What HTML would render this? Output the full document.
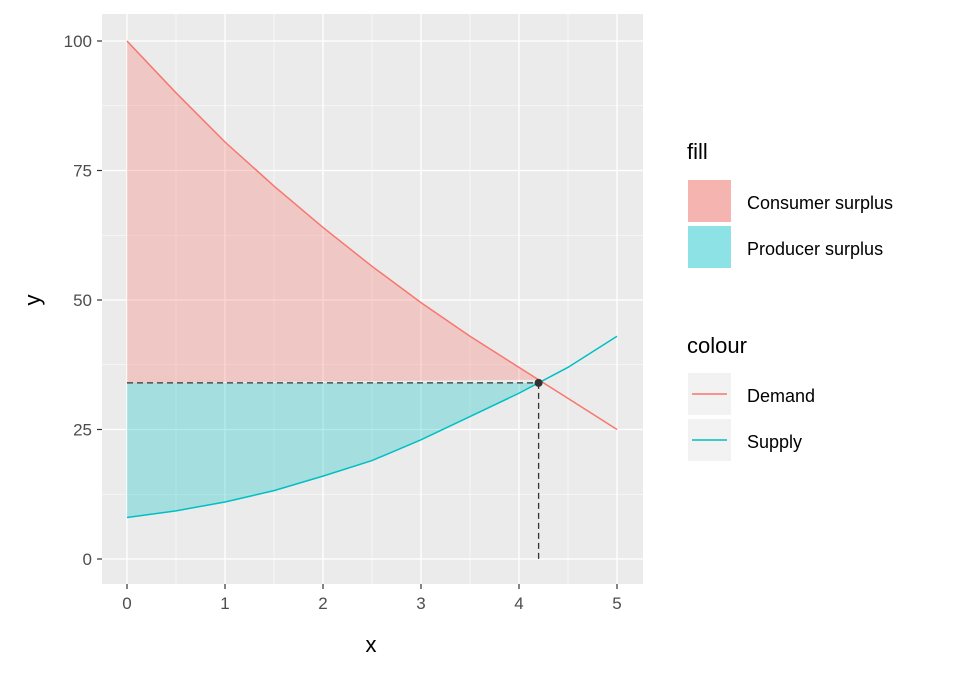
<!DOCTYPE html>
<html><head><meta charset="utf-8"><style>
body{margin:0;background:#fff;font-family:"Liberation Sans",Arial,sans-serif}
</style></head><body>
<svg id="c" width="960" height="672" xmlns="http://www.w3.org/2000/svg">
<rect x="0" y="0" width="960" height="672" fill="#fff"/>
<rect x="102" y="14" width="541" height="570" fill="#EBEBEB"/>
<g id="grid"></g>
<g id="areas"></g>
<g id="lines"></g>
<g id="axes"></g>
<text x="371" y="652" font-size="22" text-anchor="middle" fill="#000">x</text>
<text transform="translate(40,300) rotate(-90)" font-size="22" text-anchor="middle" fill="#000">y</text>
<g>
<text x="687" y="159" font-size="22">fill</text>
<rect x="688" y="180" width="43" height="42" fill="#F2F2F2"/>
<rect x="688" y="180" width="43" height="42" fill="#F8766D" fill-opacity="0.5"/>
<text x="747" y="209" font-size="18">Consumer surplus</text>
<rect x="688" y="226" width="43" height="42" fill="#00BFC4" fill-opacity="0.45"/>
<text x="747" y="255" font-size="18">Producer surplus</text>
<text x="687" y="353" font-size="22">colour</text>
<rect x="688" y="373" width="43" height="42" fill="#F2F2F2"/>
<line x1="692" y1="394" x2="727" y2="394" stroke="#F8766D" stroke-width="1.5"/>
<text x="747" y="402" font-size="18">Demand</text>
<rect x="688" y="419" width="43" height="42" fill="#F2F2F2"/>
<line x1="692" y1="440" x2="727" y2="440" stroke="#00BFC4" stroke-width="1.5"/>
<text x="747" y="448" font-size="18">Supply</text>
</g>
</svg>
<script>
const xs=[0,0.5,1,1.5,2,2.5,3,3.5,4,4.5,5];
const demand=[100,90,80.5,72,64,56.5,49.5,43,37,31,25];
const supply=[8,9.3,11,13.2,16,19,23,27.5,32,37,43];
const eqX=4.2, eqY=34;
const xTicks=[0,1,2,3,4,5];
const yTicks=[0,25,50,75,100];
const X=v=>127+v*98, Y=v=>559-v*5.18;
const NS="http://www.w3.org/2000/svg";
function mk(p,t,a){const e=document.createElementNS(NS,t);for(const k in a)e.setAttribute(k,a[k]);document.getElementById(p).appendChild(e);return e;}
const g='grid';
for(let i=0;i<xTicks.length-1;i++){const v=(xTicks[i]+xTicks[i+1])/2;mk(g,'line',{x1:X(v),x2:X(v),y1:14,y2:584,stroke:'#fff','stroke-width':0.6});}
for(let i=0;i<yTicks.length-1;i++){const v=(yTicks[i]+yTicks[i+1])/2;mk(g,'line',{y1:Y(v),y2:Y(v),x1:102,x2:643,stroke:'#fff','stroke-width':0.6});}
xTicks.forEach(v=>{mk(g,'line',{x1:X(v),x2:X(v),y1:14,y2:584,stroke:'#fff','stroke-width':1.3});
 mk('axes','line',{x1:X(v),x2:X(v),y1:584,y2:589,stroke:'#333','stroke-width':1.2});
 const t=mk('axes','text',{x:X(v),y:609,'font-size':17,fill:'#4D4D4D','text-anchor':'middle'});t.textContent=v;
 
 });
yTicks.forEach(v=>{mk(g,'line',{y1:Y(v),y2:Y(v),x1:102,x2:643,stroke:'#fff','stroke-width':1.3});
 mk('axes','line',{x1:97,x2:102,y1:Y(v),y2:Y(v),stroke:'#333','stroke-width':1.2});
 const t=mk('axes','text',{x:92,y:Y(v)+6,'font-size':17,fill:'#4D4D4D','text-anchor':'end'});t.textContent=v;
 
 });
function interp(arr,x){for(let i=0;i<xs.length-1;i++){if(x<=xs[i+1]){const f=(x-xs[i])/(xs[i+1]-xs[i]);return arr[i]+f*(arr[i+1]-arr[i]);}}return arr[arr.length-1];}
let cs=`M${X(0)},${Y(eqY)}`, ps=`M${X(0)},${Y(eqY)}`;
xs.forEach((x,i)=>{if(x<eqX){cs+=` L${X(x)},${Y(demand[i])}`;}});
cs+=` L${X(eqX)},${Y(interp(demand,eqX))} Z`;
xs.forEach((x,i)=>{if(x<eqX){ps+=` L${X(x)},${Y(supply[i])}`;}});
ps+=` L${X(eqX)},${Y(interp(supply,eqX))} Z`;
const a1=mk('areas','path',{d:cs,fill:'#F8766D','fill-opacity':0.3});


const a2=mk('areas','path',{d:ps,fill:'#00BFC4','fill-opacity':0.3});


const l1=mk('lines','polyline',{points:xs.map((x,i)=>X(x)+','+Y(demand[i])).join(' '),fill:'none',stroke:'#F8766D','stroke-width':1.5});


const l2=mk('lines','polyline',{points:xs.map((x,i)=>X(x)+','+Y(supply[i])).join(' '),fill:'none',stroke:'#00BFC4','stroke-width':1.5});


const h=mk('lines','line',{x1:X(0),x2:X(eqX),y1:Y(eqY),y2:Y(eqY),stroke:'#333','stroke-width':1.3,'stroke-dasharray':'6,4'});


const v=mk('lines','line',{x1:X(eqX),x2:X(eqX),y1:Y(eqY),y2:Y(0),stroke:'#333','stroke-width':1.3,'stroke-dasharray':'6,4'});


const p=mk('lines','circle',{cx:X(eqX),cy:Y(eqY),r:4,fill:'#333'});


</script>
</body></html>
